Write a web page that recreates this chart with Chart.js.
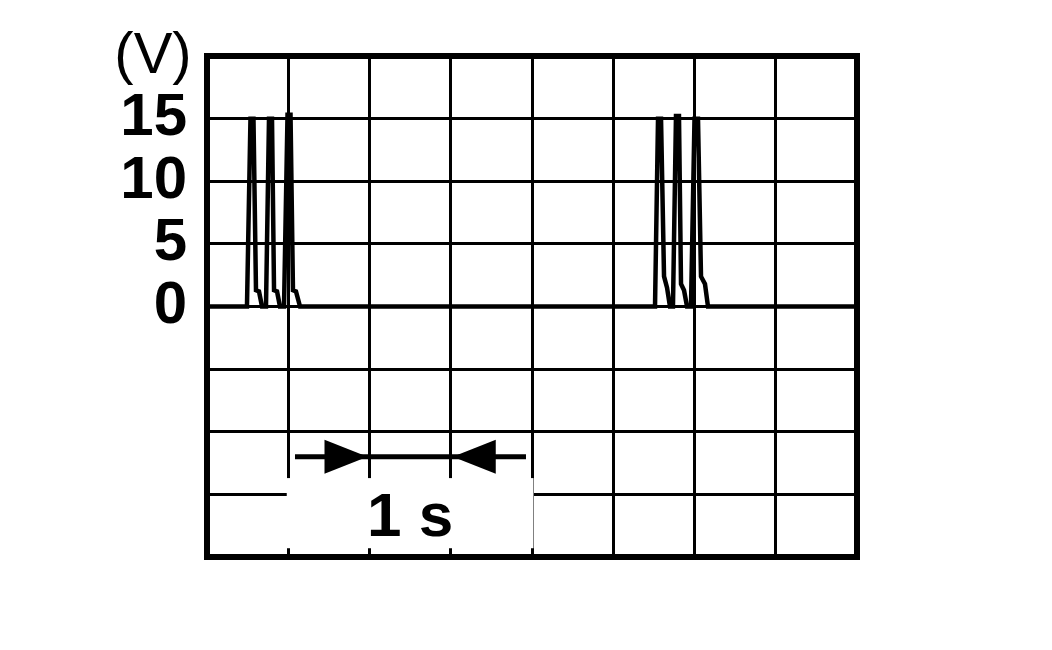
<!DOCTYPE html>
<html>
<head>
<meta charset="utf-8">
<script src="https://cdn.jsdelivr.net/npm/chart.js@4.4.1/dist/chart.umd.min.js"></script>
<style>
  html, body { margin: 0; padding: 0; background: #fff; }
</style>
</head>
<body>
<canvas id="scope" width="1052" height="650"></canvas>
<script>
// Oscilloscope trace: two bursts of three ~15 V spikes

Chart.defaults.font.family = "'Liberation Sans', Arial, sans-serif";
Chart.defaults.color = "#000";

// time axis in divisions (1 div = 1 s), volts axis
const TIME_S = [
    0,
    0.492, 0.535, 0.572, 0.603, 0.640, 0.677,   // spike 1
    0.726, 0.763, 0.800, 0.825, 0.862, 0.898,   // spike 2
    0.948, 0.991, 1.028, 1.058, 1.095, 1.145,   // spike 3
    5.514, 5.551, 5.588, 5.625, 5.662, 5.698,   // spike 4
    5.735, 5.772, 5.809, 5.834, 5.871, 5.908,   // spike 5
    5.957, 6.000, 6.043, 6.080, 6.129, 6.166,   // spike 6
    8
];
const VOLTS = [
    0,
    0, 15, 15, 1.3, 1.2, 0,
    0, 15, 15, 1.3, 1.2, 0,
    0, 15.3, 15.3, 1.3, 1.2, 0,
    0, 15, 15, 2.4, 1.5, 0,
    0, 15.2, 15.2, 1.8, 1.3, 0,
    0, 15, 15, 2.4, 1.8, 0,
    0
];
const Y_TICK_LABELS = [0, 5, 10, 15];
const UNIT_LABEL = "(V)";
const SCALE_LABEL = "1 s";

// white box + arrows + "1 s" text, then the thick frame
const overlay = {
    id: "overlay",
    beforeDatasetsDraw(chart) {
        const { ctx, scales: { x, y } } = chart;
        ctx.save();
        ctx.fillStyle = "#fff";
        const x0 = x.getPixelForValue(1) - 1.5, x1 = x.getPixelForValue(4) + 1.5;
        const y0 = y.getPixelForValue(-13.7), y1 = y.getPixelForValue(-19.3);
        ctx.fillRect(x0, y0, x1 - x0, y1 - y0);
        ctx.restore();
    },
    afterDatasetsDraw(chart) {
        const { ctx, chartArea, scales: { x, y } } = chart;
        ctx.save();
        ctx.fillStyle = "#000";
        ctx.strokeStyle = "#000";

        // arrow shaft
        const ay = y.getPixelForValue(-12);
        ctx.lineWidth = 5;
        ctx.beginPath();
        ctx.moveTo(x.getPixelForValue(1.083), ay);
        ctx.lineTo(x.getPixelForValue(3.926), ay);
        ctx.stroke();

        // arrow heads pointing at the 1 s division
        const tipL = x.getPixelForValue(2) - 2;
        const tipR = x.getPixelForValue(3) + 2;
        ctx.beginPath();
        ctx.moveTo(tipL, ay);
        ctx.lineTo(tipL - 43, ay - 17);
        ctx.lineTo(tipL - 43, ay + 17);
        ctx.closePath();
        ctx.fill();
        ctx.beginPath();
        ctx.moveTo(tipR, ay);
        ctx.lineTo(tipR + 43, ay - 17);
        ctx.lineTo(tipR + 43, ay + 17);
        ctx.closePath();
        ctx.fill();

        // "1 s"
        ctx.font = "bold 62px 'Liberation Sans', Arial, sans-serif";
        ctx.textAlign = "center";
        ctx.textBaseline = "alphabetic";
        ctx.fillText(SCALE_LABEL, x.getPixelForValue(2.5), y.getPixelForValue(-18.3));

        // "(V)" unit above the axis labels
        ctx.font = "58px 'Liberation Sans', Arial, sans-serif";
        ctx.fillText(UNIT_LABEL, chartArea.left - 54, chartArea.top + 17);

        // frame
        ctx.lineWidth = 6;
        ctx.strokeRect(chartArea.left, chartArea.top, chartArea.right - chartArea.left, chartArea.bottom - chartArea.top);
        ctx.restore();
    }
};

new Chart(document.getElementById("scope"), {
    type: "line",
    data: {
        datasets: [{
            data: TIME_S.map((t, i) => ({ x: t, y: VOLTS[i] })),
            borderColor: "#000",
            borderWidth: 4.5,
            pointRadius: 0,
            tension: 0,
            fill: false
        }]
    },
    options: {
        responsive: false,
        animation: false,
        layout: { padding: { left: 0, right: 195, top: 55, bottom: 93 } },
        plugins: {
            legend: { display: false },
            tooltip: { enabled: false }
        },
        scales: {
            x: {
                type: "linear",
                min: 0,
                max: 8,
                ticks: { display: false, stepSize: 1, autoSkip: false },
                grid: { color: "#000", lineWidth: 3, drawTicks: false },
                border: { display: false },
                afterFit: (scale) => { scale.height = 0; }
            },
            y: {
                min: -20,
                max: 20,
                ticks: {
                    stepSize: 5,
                    autoSkip: false,
                    padding: 20,
                    font: { size: 60, weight: "bold" },
                    color: "#000",
                    callback: (v) => Y_TICK_LABELS.includes(v) ? String(v) : ""
                },
                grid: { color: "#000", lineWidth: 3, drawTicks: false },
                border: { display: false },
                afterFit: (scale) => { scale.width = 207; }
            }
        }
    },
    plugins: [overlay]
});
</script>
</body>
</html>
